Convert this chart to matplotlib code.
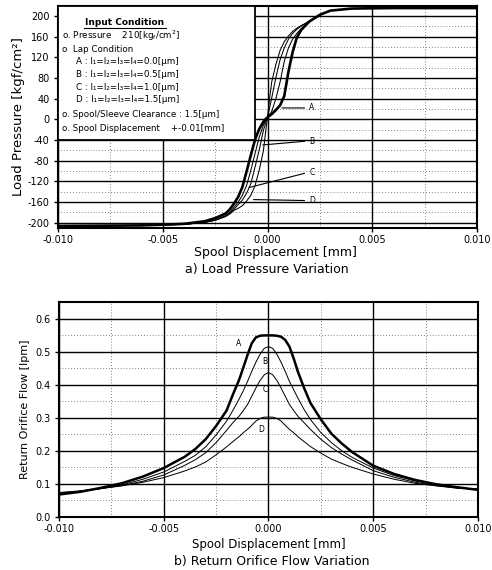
import matplotlib
matplotlib.use("Agg")
import matplotlib.pyplot as plt
from matplotlib.patches import Rectangle
from matplotlib.ticker import MultipleLocator, FormatStrFormatter

plt.rcParams['font.family'] = ['DejaVu Sans']
plt.rcParams['axes.unicode_minus'] = False
plt.rcParams['mathtext.default'] = 'regular'

# ---- a) load pressure [kgf/cm2] vs spool displacement [mm]
xp = [-0.010, -0.006, -0.004, -0.003, -0.0025, -0.002, -0.0018, -0.0016, -0.0014,
      -0.0012, -0.001, -0.0008, -0.0006, -0.0004, -0.0002, -0.0001, 0.0,
      0.0001, 0.0002, 0.0004, 0.0006, 0.0008, 0.001, 0.0012, 0.0014, 0.0016,
      0.0018, 0.002, 0.0025, 0.003, 0.004, 0.006, 0.010]
pA = [-206, -205, -202, -197, -191, -182, -174, -163, -150,
      -131, -101, -70, -40, -19, -5, 0, 4,
      7, 10, 18, 27, 45, 92, 130, 158, 172,
      181, 189, 202, 210, 214, 215, 215]
pB = [-206, -205, -203, -199, -195, -186, -180, -170, -160,
      -147, -128, -99, -67, -35, -12, -4, 4,
      9, 15, 40, 72, 112, 138, 155, 166, 175,
      182, 189, 202, 210, 214, 215, 215]
pC = [-206, -205, -203, -199, -195, -187, -181, -174, -165,
      -156, -143, -125, -93, -60, -22, -9, 4,
      22, 41, 81, 115, 138, 155, 166, 174, 180,
      185, 190, 202, 210, 214, 215, 215]
pD = [-206, -205, -203, -199, -195, -188, -183, -176, -172,
      -167, -158, -147, -129, -99, -62, -28, 4,
      40, 72, 106, 133, 150, 161, 170, 176, 181,
      185, 190, 202, 210, 214, 215, 215]

# ---- b) return orifice flow [lpm] vs spool displacement [mm]
xq = [-0.010, -0.009, -0.008, -0.007, -0.006, -0.005, -0.004, -0.0035, -0.003,
      -0.0025, -0.002, -0.0017, -0.0014, -0.0012, -0.001, -0.0008, -0.0006,
      -0.0004, -0.0002, 0.0, 0.0002, 0.0004, 0.0006, 0.0008, 0.001, 0.0012,
      0.0014, 0.0017, 0.002, 0.0025, 0.003, 0.0035, 0.004, 0.005, 0.006,
      0.007, 0.008, 0.009, 0.010]
qA = [0.068, 0.076, 0.088, 0.102, 0.122, 0.148, 0.182, 0.205, 0.235,
      0.275, 0.322, 0.37, 0.415, 0.452, 0.49, 0.525, 0.543,
      0.548, 0.549, 0.549, 0.549, 0.548, 0.545, 0.535, 0.515, 0.48,
      0.44, 0.39, 0.345, 0.295, 0.252, 0.222, 0.196, 0.155, 0.13,
      0.112, 0.099, 0.09, 0.082]
qB = [0.070, 0.077, 0.086, 0.097, 0.114, 0.136, 0.168, 0.186, 0.212,
      0.248, 0.29, 0.322, 0.357, 0.382, 0.41, 0.44, 0.468,
      0.492, 0.51, 0.515, 0.51, 0.492, 0.468, 0.44, 0.41, 0.385,
      0.36, 0.325, 0.295, 0.255, 0.225, 0.2, 0.18, 0.148, 0.125,
      0.109, 0.097, 0.089, 0.083]
qC = [0.072, 0.078, 0.086, 0.095, 0.108, 0.127, 0.156, 0.173, 0.194,
      0.225, 0.262, 0.285, 0.305, 0.322, 0.34, 0.365, 0.39,
      0.413, 0.43, 0.437, 0.43, 0.413, 0.39, 0.365, 0.34, 0.322,
      0.305, 0.285, 0.265, 0.235, 0.21, 0.19, 0.172, 0.14, 0.12,
      0.105, 0.095, 0.088, 0.084]
qD = [0.074, 0.079, 0.086, 0.094, 0.105, 0.119, 0.139, 0.151, 0.166,
      0.188, 0.212, 0.228, 0.243, 0.255, 0.265, 0.277, 0.29,
      0.298, 0.302, 0.302, 0.302, 0.298, 0.29, 0.277, 0.265, 0.255,
      0.243, 0.228, 0.213, 0.193, 0.175, 0.162, 0.15, 0.13, 0.114,
      0.102, 0.094, 0.087, 0.085]

labels = ['A', 'B', 'C', 'D']
widths = [1.9, 0.75, 0.75, 0.75]

# annotation spots: (text x, text y, line end x, line end y)
top_notes = [(0.0019, 22, 0.00055, 22),
             (0.0019, -42, -0.00036, -50),
             (0.0019, -103, -0.0010, -133),
             (0.0019, -157, -0.0008, -155)]
bot_notes = [(-0.00142, 0.525), (-0.00019, 0.47), (-0.00014, 0.385), (-0.00035, 0.266)]

legend_lines = [
    ('o. Pressure    210[kg$_f$/cm$^2$]', 0.009, 0.865),
    ('o  Lap Condition', 0.009, 0.805),
    ('A : l₁=l₂=l₃=l₄=0.0[μm]', 0.043, 0.748),
    ('B : l₁=l₂=l₃=l₄=0.5[μm]', 0.043, 0.690),
    ('C : l₁=l₂=l₃=l₄=1.0[μm]', 0.043, 0.634),
    ('D : l₁=l₂=l₃=l₄=1.5[μm]', 0.043, 0.577),
    ('o. Spool/Sleeve Clearance : 1.5[μm]', 0.009, 0.509),
    ('o. Spool Displacement    +-0.01[mm]', 0.009, 0.449),
]


def style_axes(ax, ymaj, ymin_step):
    ax.set_xlim(-0.010, 0.010)
    ax.xaxis.set_major_locator(MultipleLocator(0.005))
    ax.xaxis.set_minor_locator(MultipleLocator(0.0025))
    ax.yaxis.set_major_locator(MultipleLocator(ymaj))
    ax.yaxis.set_minor_locator(MultipleLocator(ymin_step))
    ax.xaxis.set_major_formatter(FormatStrFormatter('%.3f'))
    ax.grid(which='major', color='black', lw=1.0, ls='-')
    ax.grid(which='minor', color='0.35', lw=0.6, ls=(0, (1, 2.5)))
    ax.tick_params(which='major', direction='out', length=3, width=1.0,
                   labelsize=7, pad=3)
    ax.tick_params(axis='x', which='major', pad=2)
    ax.tick_params(which='minor', length=0)
    for s in ax.spines.values():
        s.set_linewidth(1.5)


fig = plt.figure(figsize=(4.92, 5.70), dpi=100)

# ---------------- top
ax1 = fig.add_axes([0.1179, 0.600, 0.8516, 0.3895])
for y, w in zip([pA, pB, pC, pD], widths):
    ax1.plot(xp, y, color='black', lw=w, zorder=4)
ax1.set_ylim(-210, 219)
style_axes(ax1, 40, 20)
ax1.set_yticks(range(-200, 201, 40))
ax1.set_xlabel('Spool Displacement [mm]', fontsize=9)
ax1.set_ylabel('Load Pressure [kgf/cm²]', fontsize=9.5, labelpad=2)
ax1.xaxis.set_label_coords(0.52, -0.080)

for (tx, ty, ex, ey), lab in zip(top_notes, labels):
    ax1.annotate('', xy=(ex, ey), xytext=(tx, ty),
                 arrowprops=dict(arrowstyle='-', lw=0.8, color='black'), zorder=5)
    ax1.text(tx + 0.0001, ty, lab, fontsize=5.5, va='center', ha='left', zorder=6)

box = Rectangle((-0.010, -40), 0.0094, 259, facecolor='white',
                edgecolor='black', lw=1.3, zorder=3)
ax1.add_patch(box)
ax1.text(0.160, 0.925, 'Input Condition', transform=ax1.transAxes,
         fontsize=6.5, fontweight='bold', ha='center', va='center', zorder=6)
ax1.plot([0.063, 0.258], [0.903, 0.903], transform=ax1.transAxes,
         color='black', lw=0.8, zorder=6)
for txt, x, y in legend_lines:
    ax1.text(x, y, txt, transform=ax1.transAxes, fontsize=6.3,
             ha='left', va='center', zorder=6)

fig.text(0.543, 1 - 269 / 570, 'a) Load Pressure Variation', fontsize=9,
         ha='center', va='center')

# ---------------- bottom
ax2 = fig.add_axes([0.1199, 0.093, 0.8516, 0.3772])
for y, w in zip([qA, qB, qC, qD], widths):
    ax2.plot(xq, y, color='black', lw=w * 0.95, zorder=4)
ax2.set_ylim(0, 0.65)
style_axes(ax2, 0.1, 0.05)
ax2.yaxis.set_major_formatter(FormatStrFormatter('%.1f'))
ax2.set_xlabel('Spool Displacement [mm]', fontsize=8.5)
ax2.set_ylabel('Return Orifice Flow [lpm]', fontsize=8, labelpad=4)
ax2.xaxis.set_label_coords(0.50, -0.098)
for (tx, ty), lab in zip(bot_notes, labels):
    ax2.text(tx, ty, lab, fontsize=5.5, ha='center', va='center', zorder=6)

fig.text(0.553, 1 - 561 / 570, 'b) Return Orifice Flow Variation', fontsize=9,
         ha='center', va='center')

fig.savefig('out.png', dpi=100)
